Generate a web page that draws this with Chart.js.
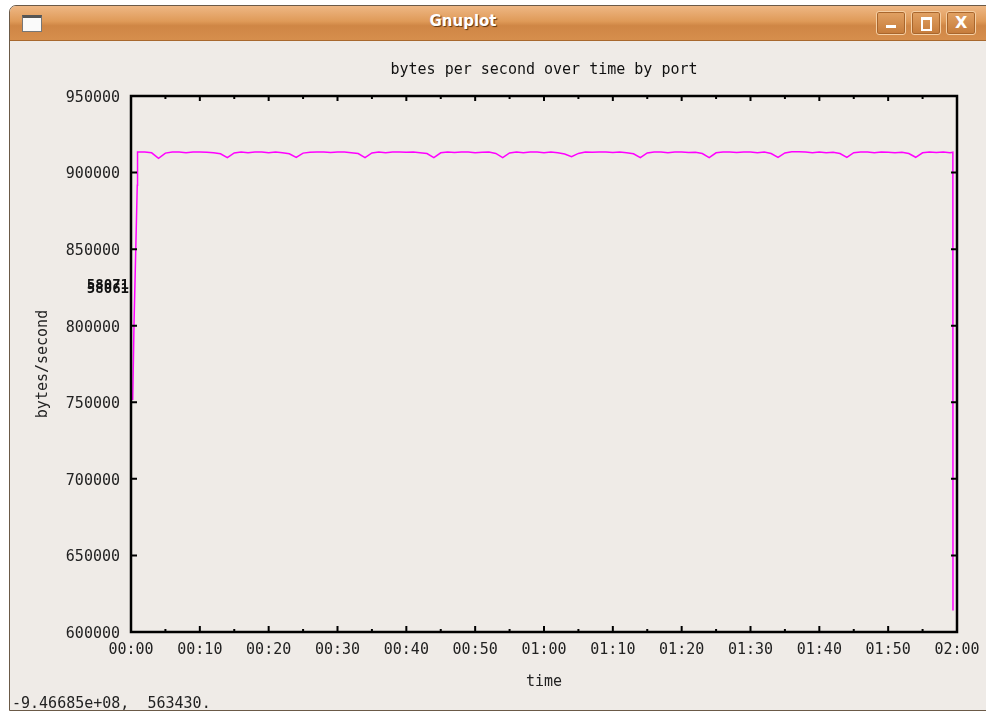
<!DOCTYPE html>
<html>
<head>
<meta charset="utf-8">
<title>Gnuplot</title>
<script src="https://cdn.jsdelivr.net/npm/chart.js@4/dist/chart.umd.min.js"></script>
<style>
  html, body { margin: 0; padding: 0; width: 986px; height: 713px; overflow: hidden; background: #fff; }
  .win { position: absolute; left: 9px; top: 5px; width: 1000px; height: 706px; box-sizing: border-box;
         background: #efebe7; border: 1px solid #6b5a48; border-radius: 7px 7px 0 0; }
  .bar { position: absolute; left: 10px; top: 6px; width: 990px; height: 34px; border-radius: 6px 6px 0 0;
         background: linear-gradient(#eeb784 0%, #df9a58 45%, #cf8645 58%, #d68e4c 100%); border-bottom: 1px solid #a8682e; }
  .name { position: absolute; left: 9px; width: 908px; top: 12px; text-align: center; font: bold 15px "DejaVu Sans";
          color: #fff; text-shadow: 1px 1px 1px #5a3210; }
  .icon { position: absolute; left: 22px; top: 15px; width: 18px; height: 13px; background: #fafafa;
          border: 1px solid #777; border-top: 3px solid #555; }
  .btn { position: absolute; top: 11px; width: 28px; height: 22px; border: 1px solid #f5cfa4; border-radius: 3px;
         background: linear-gradient(#e2a264, #c57b3a); box-shadow: inset 0 0 0 1px #a9662c; }
  .btn i { position: absolute; display: block; }
  .min i { left: 9px; top: 13px; width: 10px; height: 3px; background: #fff; }
  .max i { left: 9px; top: 5px; width: 7px; height: 9px; border: 2px solid #fff; border-top-width: 3px; }
  .cls i { left: 8px; top: 1px; font: bold 16px "DejaVu Sans"; color: #fff; font-style: normal; }
  #chart { position: absolute; left: 0; top: 0; }
  .status { position: absolute; left: 12px; top: 694px; font: 15px "DejaVu Sans Mono"; color: #222; white-space: pre; }
</style>
</head>
<body>
<div class="win"></div>
<div class="bar"></div>
<div class="icon"></div>
<div class="name">Gnuplot</div>
<div class="btn min" style="left:876px"><i></i></div>
<div class="btn max" style="left:911px"><i></i></div>
<div class="btn cls" style="left:946px"><i>X</i></div>
<canvas id="chart" width="986" height="713"></canvas>
<div class="status">-9.46685e+08,  563430.</div>
<script>
// minutes since start
const times = [
  0.25, 0.44, 0.68, 0.91, 0.95,
  2, 3, 4, 5, 6, 7, 8, 9, 10, 11,
  12, 13, 14, 15, 16, 17, 18, 19, 20, 21,
  22, 23, 24, 25, 26, 27, 28, 29, 30, 31,
  32, 33, 34, 35, 36, 37, 38, 39, 40, 41,
  42, 43, 44, 45, 46, 47, 48, 49, 50, 51,
  52, 53, 54, 55, 56, 57, 58, 59, 60, 61,
  62, 63, 64, 65, 66, 67, 68, 69, 70, 71,
  72, 73, 74, 75, 76, 77, 78, 79, 80, 81,
  82, 83, 84, 85, 86, 87, 88, 89, 90, 91,
  92, 93, 94, 95, 96, 97, 98, 99, 100, 101,
  102, 103, 104, 105, 106, 107, 108, 109, 110, 111,
  112, 113, 114, 115, 116, 117, 118, 119,
  119.4, 119.42
];
// bytes per second
const bytesPerSecond = [
  751500, 801700, 847400, 891700, 913400,
  913400, 912900, 909300, 912700, 913500, 913400, 913000, 913500, 913500, 913300,
  912900, 912300, 909700, 912800, 913400, 913000, 913400, 913500, 913000, 913400,
  913000, 912300, 909900, 912700, 913300, 913400, 913400, 913100, 913400, 913400,
  913000, 912400, 909800, 912800, 913400, 913000, 913400, 913400, 913200, 913400,
  912900, 912400, 909800, 912900, 913400, 913100, 913400, 913400, 913000, 913300,
  913400, 912500, 909700, 912800, 913400, 913000, 913500, 913400, 913000, 913400,
  912900, 912100, 910400, 912500, 913400, 913300, 913400, 913400, 913100, 913400,
  913000, 912300, 909700, 912800, 913500, 913400, 913000, 913400, 913400, 913100,
  913300, 912400, 909800, 912900, 913400, 913400, 913100, 913400, 913400, 913000,
  913400, 912400, 909900, 912800, 913600, 913600, 913400, 913000, 913400, 913000,
  913300, 912400, 909900, 913000, 913400, 913400, 913000, 913500, 913300, 913000,
  913300, 912400, 910000, 912900, 913500, 913100, 913400, 913000,
  913300, 614000
];
const keyLabels = ['58071', '58061'];
const titleText = 'bytes per second over time by port';
const xTitle = 'time';
const yTitle = 'bytes/second';

const monoFont = '"DejaVu Sans Mono", "Liberation Mono", monospace';

const pad2 = n => String(n).padStart(2, '0');
const fmtTime = v => pad2(Math.floor(v / 60)) + ':' + pad2(v % 60);

// gnuplot style border with inward ticks
const gnuplotFrame = {
  id: 'gnuplotFrame',
  afterDatasetsDraw(chart) {
    const { ctx, chartArea: a, scales: { x, y } } = chart;
    ctx.save();
    ctx.strokeStyle = '#000';
    ctx.lineWidth = 2;
    ctx.beginPath();
    x.ticks.forEach((t, i) => {
      const px = x.getPixelForValue(t.value);
      ctx.moveTo(px, a.bottom); ctx.lineTo(px, a.bottom - 6);
      ctx.moveTo(px, a.top); ctx.lineTo(px, a.top + 5);
      if (i < x.ticks.length - 1) {
        const mx = x.getPixelForValue(t.value + 5);
        ctx.moveTo(mx, a.bottom); ctx.lineTo(mx, a.bottom - 3);
        ctx.moveTo(mx, a.top); ctx.lineTo(mx, a.top + 3);
      }
    });
    y.ticks.forEach(t => {
      const py = y.getPixelForValue(t.value);
      ctx.moveTo(a.left, py); ctx.lineTo(a.left + 6, py);
      ctx.moveTo(a.right, py); ctx.lineTo(a.right - 6, py);
    });
    ctx.stroke();
    ctx.lineWidth = 2.5;
    ctx.strokeRect(a.left, a.top, a.right - a.left, a.bottom - a.top);
    // overlapping key labels
    ctx.fillStyle = '#111';
    ctx.font = 'bold 14px ' + monoFont;
    ctx.textAlign = 'right';
    ctx.textBaseline = 'middle';
    ctx.fillText(keyLabels[0], a.left - 2, 285);
    ctx.fillText(keyLabels[1], a.left - 2, 289);
    ctx.restore();
  }
};

new Chart(document.getElementById('chart'), {
  type: 'line',
  data: {
    datasets: [{
      data: times.map((t, i) => ({ x: t, y: bytesPerSecond[i] })),
      borderColor: '#ff00ff',
      borderWidth: 1.5,
      pointRadius: 0,
      tension: 0,
      fill: false
    }]
  },
  options: {
    responsive: false,
    animation: false,
    devicePixelRatio: 1,
    layout: { padding: { left: 0, right: 29, top: 0, bottom: 0 } },
    plugins: {
      legend: { display: false },
      tooltip: { enabled: false },
      title: {
        display: true,
        text: titleText,
        fullSize: false,
        color: '#111',
        font: { family: monoFont, size: 15, weight: 'normal' },
        padding: { top: 61, bottom: 17 }
      }
    },
    scales: {
      x: {
        type: 'linear',
        min: 0,
        max: 120,
        grid: { display: false, drawTicks: false },
        border: { display: false },
        ticks: {
          stepSize: 10,
          padding: 9,
          color: '#222',
          font: { family: monoFont, size: 15 },
          maxRotation: 0,
          callback: v => fmtTime(v)
        },
        title: {
          display: true,
          text: xTitle,
          color: '#222',
          font: { family: monoFont, size: 15 },
          padding: { top: 0, bottom: 22 }
        },
        afterFit: s => { s.height = 81; s.paddingLeft = 20; s.paddingRight = 20; }
      },
      y: {
        min: 600000,
        max: 950000,
        grid: { display: false, drawTicks: false },
        border: { display: false },
        ticks: {
          stepSize: 50000,
          padding: 11,
          labelOffset: 2,
          color: '#222',
          font: { family: monoFont, size: 15 },
          callback: v => String(v)
        },
        title: {
          display: true,
          text: yTitle,
          color: '#222',
          font: { family: monoFont, size: 15 },
          padding: { top: 34, bottom: 0 }
        },
        afterFit: s => { s.width = 131; }
      }
    }
  },
  plugins: [gnuplotFrame]
});
</script>
</body>
</html>
